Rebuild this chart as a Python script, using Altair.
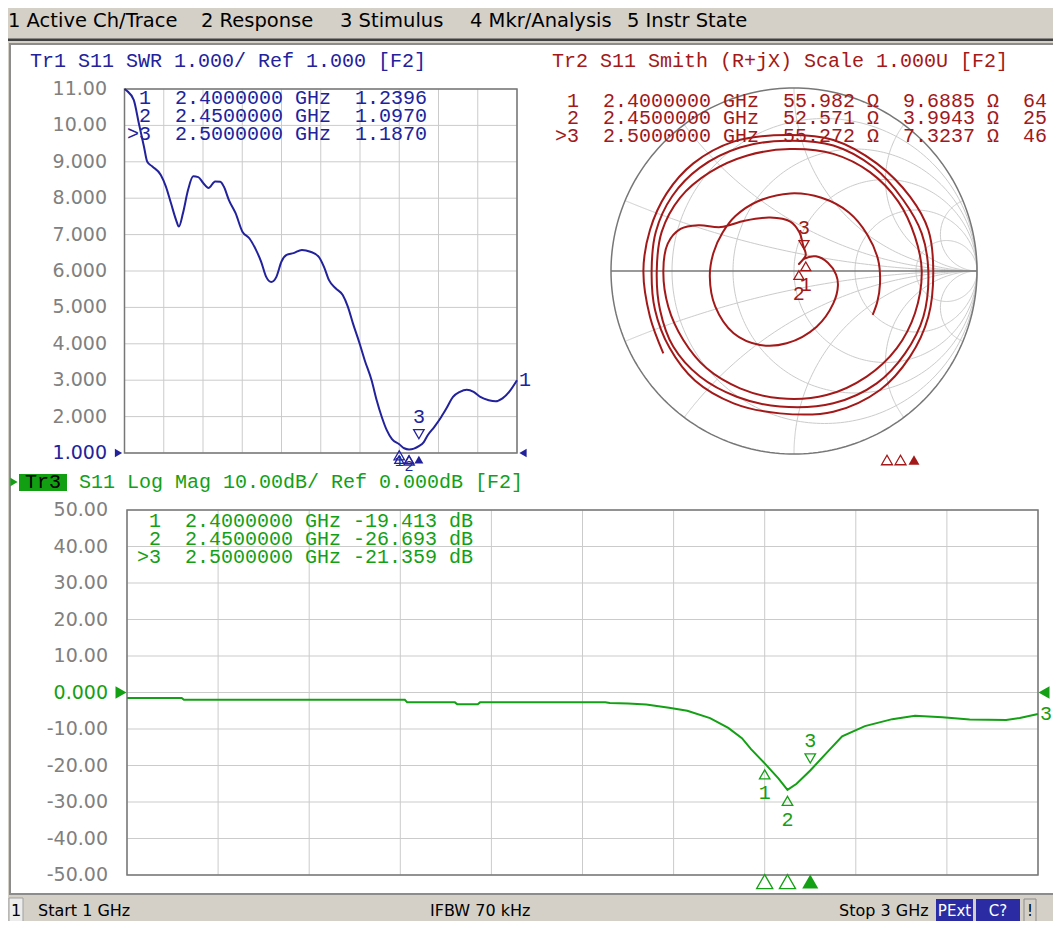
import altair as alt
import numpy as np
import pandas as pd

# ---------------- values ----------------
# Trace 1 : S11 SWR versus frequency (GHz)
swr_freq = [1.000, 1.012, 1.047, 1.073, 1.099, 1.116, 1.142, 1.185, 1.211, 1.237, 1.263, 1.277, 1.298,
            1.324, 1.350, 1.376, 1.402, 1.428, 1.462, 1.488, 1.506, 1.532, 1.566, 1.601, 1.636, 1.670,
            1.696, 1.722, 1.748, 1.774, 1.800, 1.826, 1.861, 1.904, 1.947, 1.990, 2.016, 2.042, 2.077,
            2.112, 2.138, 2.164, 2.198, 2.224, 2.259, 2.285, 2.311, 2.337, 2.363, 2.400, 2.425, 2.450,
            2.475, 2.500, 2.525, 2.545, 2.579, 2.614, 2.640, 2.674, 2.709, 2.744, 2.779, 2.813, 2.856,
            2.891, 2.926, 2.960, 3.000]
swr_val = [11.0, 10.95, 10.7, 10.06, 9.42, 9.0, 8.87, 8.64, 8.32, 7.86, 7.40, 7.22, 7.59,
           8.23, 8.60, 8.58, 8.41, 8.28, 8.46, 8.45, 8.32, 7.95, 7.59, 7.08, 6.90, 6.58,
           6.26, 5.84, 5.70, 5.84, 6.26, 6.44, 6.49, 6.58, 6.53, 6.39, 6.12, 5.75, 5.52,
           5.34, 5.02, 4.56, 4.01, 3.55, 3.00, 2.45, 1.99, 1.62, 1.38, 1.2396, 1.13, 1.097,
           1.12, 1.187, 1.30, 1.49, 1.72, 1.99, 2.22, 2.54, 2.68, 2.74, 2.68, 2.54, 2.45,
           2.42, 2.50, 2.68, 3.00]

# Trace 3 : S11 Log Mag (dB) versus frequency (GHz)
lm_freq = [1.00, 1.12, 1.125, 1.40, 1.61, 1.615, 1.72, 1.725, 1.77, 1.775, 2.05, 2.06, 2.10, 2.14,
           2.19, 2.23, 2.28, 2.32, 2.35, 2.37, 2.40, 2.43, 2.45, 2.47, 2.50, 2.54, 2.57, 2.62,
           2.68, 2.73, 2.79, 2.85, 2.93, 2.96, 3.00]
lm_db = [-1.5, -1.5, -2.0, -2.0, -2.0, -2.7, -2.7, -3.2, -3.2, -2.7, -2.7, -2.9, -3.0, -3.3,
         -4.2, -5.0, -7.0, -9.7, -12.5, -15.5, -19.413, -23.5, -26.693, -25.0, -21.359, -16.0, -12.0, -9.2,
         -7.3, -6.4, -6.8, -7.4, -7.5, -7.0, -5.9]

# Trace 2 : S11 on the Smith chart (reflection coefficient, real / imaginary), in sweep order
smith_points = [
    (-0.714, -0.450), (-0.787, -0.250), (-0.823, 0.000), (-0.787, 0.224), (-0.696, 0.424), (-0.550, 0.588),
    (-0.330, 0.707), (-0.040, 0.743), (0.215, 0.716), (0.452, 0.588), (0.634, 0.406), (0.734, 0.224),
    (0.761, 0.000), (0.734, -0.250), (0.634, -0.468), (0.470, -0.650), (0.215, -0.769), (-0.077, -0.778),
    (-0.330, -0.723), (-0.540, -0.600), (-0.680, -0.420), (-0.760, -0.210),
    (-0.778, 0.000), (-0.755, 0.215), (-0.665, 0.410), (-0.514, 0.565), (-0.295, 0.675), (-0.040, 0.712),
    (0.215, 0.686), (0.434, 0.568), (0.597, 0.388), (0.698, 0.206), (0.734, 0.000), (0.707, -0.250),
    (0.607, -0.450), (0.452, -0.614), (0.215, -0.723), (-0.077, -0.741), (-0.313, -0.687), (-0.514, -0.577),
    (-0.660, -0.413), (-0.732, -0.213),
    (-0.750, 0.000), (-0.723, 0.214), (-0.623, 0.400), (-0.459, 0.540), (-0.259, 0.630), (-0.022, 0.666),
    (0.215, 0.640), (0.415, 0.540), (0.570, 0.379), (0.661, 0.188), (0.698, 0.000), (0.661, -0.231),
    (0.561, -0.423), (0.397, -0.577), (0.178, -0.678), (-0.077, -0.696), (-0.295, -0.641), (-0.477, -0.532),
    (-0.605, -0.377), (-0.687, -0.195),
    (-0.714, 0.000), (-0.690, 0.150), (-0.620, 0.230), (-0.520, 0.250), (-0.400, 0.240), (-0.270, 0.275),
    (-0.130, 0.292), (-0.020, 0.270), (0.030, 0.210), (0.050, 0.140),
    (0.064, 0.086), (0.027, 0.038), (0.055, 0.066),
    (0.120, 0.080), (0.185, 0.045), (0.230, -0.020), (0.240, -0.080), (0.215, -0.177), (0.124, -0.304),
    (-0.040, -0.395), (-0.186, -0.404), (-0.330, -0.340), (-0.430, -0.195), (-0.460, -0.030), (-0.440, 0.100),
    (-0.390, 0.210), (-0.320, 0.300), (-0.200, 0.380), (-0.020, 0.424), (0.150, 0.400), (0.300, 0.320),
    (0.400, 0.200), (0.460, 0.060), (0.470, -0.070), (0.455, -0.170), (0.430, -0.240),
]

# Markers
mk_names = ["1", "2", "3"]
mk_freq = [2.40, 2.45, 2.50]
mk_swr = [1.2396, 1.0970, 1.1870]
mk_db = [-19.413, -26.693, -21.359]
mk_res = [55.982, 52.571, 55.272]
mk_reac = [9.6885, 3.9943, 7.3237]
mk_extra = ["64", "25", "46"]

# Grids and tick labels
freq_grid = [1.0, 1.2, 1.4, 1.6, 1.8, 2.0, 2.2, 2.4, 2.6, 2.8, 3.0]
swr_ticks = [11, 10, 9, 8, 7, 6, 5, 4, 3, 2, 1]
swr_tick_labels = ["11.00", "10.00", "9.000", "8.000", "7.000", "6.000", "5.000", "4.000", "3.000", "2.000", "1.000"]
db_ticks = [50, 40, 30, 20, 10, 0, -10, -20, -30, -40, -50]
db_tick_labels = ["50.00", "40.00", "30.00", "20.00", "10.00", "0.000", "-10.00", "-20.00", "-30.00", "-40.00", "-50.00"]
smith_r_grid = [0.2, 0.5, 1.0, 2.0, 5.0]
smith_x_grid = [0.2, 0.5, 1.0, 2.0, 5.0]

menu_items = ["1 Active Ch/Trace", "2 Response", "3 Stimulus", "4 Mkr/Analysis", "5 Instr State"]
menu_x = [8, 201, 340, 470, 627]

# ---------------- styles ----------------
BG = "#d4d0c8"
BLUE = "#22229c"
RED = "#a31818"
GREEN = "#14a014"
GRID = "#cbcbcb"
BORDER = "#777777"
LABEL = "#808080"
SANS = "DejaVu Sans"
MONO = "Liberation Mono"
MS = 20
CW = 12  # width of one monospace character cell
NB = "\u00a0"

ONE = pd.DataFrame({"k": [0]})


def P(v):
    return v - 8


def keep(s):
    return s.replace(" ", NB)


def rect(x1, y1, x2, y2, fill, stroke=None, sw=1.0):
    kw = dict(fill=fill)
    if stroke is not None:
        kw.update(stroke=stroke, strokeWidth=sw)
    return alt.Chart(ONE).mark_rect(**kw).encode(
        x=alt.value(P(x1)), x2=alt.value(P(x2)), y=alt.value(P(y1)), y2=alt.value(P(y2)))


def txt(x, y, s, color, size, font=SANS, align="left"):
    return alt.Chart(ONE).mark_text(align=align, baseline="middle", font=font, fontSize=size,
                                    color=color).encode(
        x=alt.value(P(x)), y=alt.value(P(y)), text=alt.value(keep(s)))


def sym(x, y, shape, color, size):
    return alt.Chart(ONE).mark_point(shape=shape, filled=True, size=size, color=color, opacity=1).encode(
        x=alt.value(P(x)), y=alt.value(P(y)))


def grid_df(xs, ys, xlo, xhi, ylo, yhi):
    return pd.DataFrame({
        "x": list(xs) + [xlo] * len(ys),
        "x2": list(xs) + [xhi] * len(ys),
        "y": [ylo] * len(xs) + list(ys),
        "y2": [yhi] * len(xs) + list(ys),
    })


def panel(xs, ys, grid, frame, trace_df, tick_df, ref_val, lab_x, color, mk_df, ind_y,
          tri_size, ind_size, end_label, end_xy, lab_dy, lab_size, interp):
    X = lambda f: alt.X(f"{f}:Q", scale=xs, axis=None)
    Y = lambda f: alt.Y(f"{f}:Q", scale=ys, axis=None)
    layers = []
    layers.append(alt.Chart(grid).mark_rule(color=GRID, strokeWidth=1).encode(
        x=X("x"), x2="x2:Q", y=Y("y"), y2="y2:Q"))
    layers.append(alt.Chart(frame).mark_rect(fill="transparent", stroke=BORDER, strokeWidth=1.5).encode(
        x=X("x"), x2="x2:Q", y=Y("y"), y2="y2:Q"))
    gray = tick_df[tick_df["v"] != ref_val]
    refl = tick_df[tick_df["v"] == ref_val]
    layers.append(alt.Chart(gray).mark_text(align="right", baseline="middle", font=SANS, fontSize=19,
                                            color=LABEL).encode(
        y=Y("v"), x=alt.value(P(lab_x)), text="t:N"))
    layers.append(alt.Chart(refl).mark_text(align="right", baseline="middle", font=SANS, fontSize=19,
                                            color=color).encode(
        y=Y("v"), x=alt.value(P(lab_x)), text="t:N"))
    refdf = pd.DataFrame({"x": [xs.domain[0]], "x2": [xs.domain[1]], "y": [ref_val]})
    layers.append(alt.Chart(refdf).mark_point(shape="triangle-right", filled=True, size=tri_size, color=color,
                                              opacity=1, xOffset=-6).encode(x=X("x"), y=Y("y")))
    layers.append(alt.Chart(refdf).mark_point(shape="triangle-left", filled=True, size=tri_size, color=color,
                                              opacity=1, xOffset=6).encode(x=X("x2"), y=Y("y")))
    layers.append(alt.Chart(trace_df).mark_line(color=color, strokeWidth=2, interpolate=interp).encode(
        x=X("f"), y=Y("v")))
    below = mk_df.iloc[:2]
    above = mk_df.iloc[2:]
    layers.append(alt.Chart(below).mark_point(shape="triangle-up", size=110, filled=False, color=color,
                                              strokeWidth=1.3, opacity=1, yOffset=11).encode(x=X("f"), y=Y("v")))
    layers.append(alt.Chart(below).mark_text(font=MONO, fontSize=lab_size, color=color, dy=lab_dy,
                                             baseline="middle").encode(x=X("f"), y=Y("v"), text="n:N"))
    layers.append(alt.Chart(above).mark_point(shape="triangle-down", size=110, filled=False, color=color,
                                              strokeWidth=1.3, opacity=1, yOffset=-12).encode(x=X("f"), y=Y("v")))
    layers.append(alt.Chart(above).mark_text(font=MONO, fontSize=MS, color=color, dy=-29, baseline="middle").encode(
        x=X("f"), y=Y("v"), text="n:N"))
    # marker position indicators under the axis
    layers.append(alt.Chart(below).mark_point(shape="triangle-up", size=ind_size, filled=False, color=color,
                                              strokeWidth=1.3, opacity=1).encode(
        x=X("f"), y=alt.YDatum(ind_y, scale=ys, axis=None)))
    layers.append(alt.Chart(above).mark_point(shape="triangle-up", size=ind_size, filled=True, color=color,
                                              opacity=1).encode(
        x=X("f"), y=alt.YDatum(ind_y, scale=ys, axis=None)))
    enddf = pd.DataFrame({"f": [end_xy[0]], "v": [end_xy[1]], "n": [end_label]})
    layers.append(alt.Chart(enddf).mark_text(font=MONO, fontSize=MS, color=color, align="left", dx=2,
                                             baseline="middle").encode(x=X("f"), y=Y("v"), text="n:N"))
    return alt.layer(*layers)


# ---------------- panel 1 : SWR ----------------
X1 = alt.Scale(domain=[1, 3], range=[P(124.5), P(517)], nice=False, zero=False)
Y1 = alt.Scale(domain=[1, 11], range=[P(453), P(89)], nice=False, zero=False)
mk1 = pd.DataFrame({"f": mk_freq, "v": mk_swr, "n": mk_names})
p1 = panel(X1, Y1, grid_df(freq_grid, swr_ticks, 1.0, 3.0, 1.0, 11.0),
           pd.DataFrame({"x": [1.0], "x2": [3.0], "y": [1.0], "y2": [11.0]}),
           pd.DataFrame({"f": swr_freq, "v": swr_val}),
           pd.DataFrame({"v": swr_ticks, "t": swr_tick_labels}), 1, 107, BLUE, mk1, 0.82, 70, 80,
           "1", (swr_freq[-1], swr_val[-1]), 17, 15, "monotone")

# ---------------- panel 3 : Log Mag ----------------
X3 = alt.Scale(domain=[1, 3], range=[P(127), P(1038)], nice=False, zero=False)
Y3 = alt.Scale(domain=[-50, 50], range=[P(875), P(510)], nice=False, zero=False)
mk3 = pd.DataFrame({"f": mk_freq, "v": mk_db, "n": mk_names})
p3 = panel(X3, Y3, grid_df(freq_grid, db_ticks, 1.0, 3.0, -50.0, 50.0),
           pd.DataFrame({"x": [1.0], "x2": [3.0], "y": [-50.0], "y2": [50.0]}),
           pd.DataFrame({"f": lm_freq, "v": lm_db}),
           pd.DataFrame({"v": db_ticks, "t": db_tick_labels}), 0, 108, GREEN, mk3, -51.8, 160, 260,
           "3", (lm_freq[-1], lm_db[-1]), 30, MS, "linear")

# ---------------- panel 2 : Smith chart ----------------
XS = alt.Scale(domain=[-1, 1], range=[P(611), P(977)], nice=False, zero=False)
YS = alt.Scale(domain=[-1, 1], range=[P(454), P(88)], nice=False, zero=False)
GX = alt.X("gr:Q", scale=XS, axis=None)
GY = alt.Y("gi:Q", scale=YS, axis=None)

rows = []
t = np.linspace(0, 2 * np.pi, 241)
for r in smith_r_grid:
    c, rad = r / (1 + r), 1 / (1 + r)
    for i, tt in enumerate(t):
        rows.append({"g": f"r{r}", "i": i, "gr": c + rad * np.cos(tt), "gi": rad * np.sin(tt)})
rr = np.concatenate([[0.0], np.geomspace(0.003, 3000, 260)])
for xv in smith_x_grid:
    for s in (1, -1):
        g = ((rr + 1j * s * xv) - 1) / ((rr + 1j * s * xv) + 1)
        for i, gv in enumerate(g):
            rows.append({"g": f"x{s * xv}", "i": i, "gr": gv.real, "gi": gv.imag})
smith_grid = pd.DataFrame(rows)
outer = pd.DataFrame({"g": "o", "i": range(len(t)), "gr": np.cos(t), "gi": np.sin(t)})
smith_tr = pd.DataFrame({"i": range(len(smith_points)),
                         "gr": [p[0] for p in smith_points], "gi": [p[1] for p in smith_points]})
zn = (np.array(mk_res) + 1j * np.array(mk_reac)) / 50.0
gm = (zn - 1) / (zn + 1)
mk2 = pd.DataFrame({"gr": gm.real, "gi": gm.imag, "n": mk_names})

p2 = alt.layer(
    alt.Chart(smith_grid).mark_line(color=GRID, strokeWidth=1).encode(x=GX, y=GY, detail="g:N", order="i:Q"),
    alt.Chart(pd.DataFrame({"gr": [-1.0], "gr2": [1.0], "gi": [0.0]})).mark_rule(color=BORDER, strokeWidth=1.5).encode(
        x=GX, x2="gr2:Q", y=GY),
    alt.Chart(outer).mark_line(color=BORDER, strokeWidth=1.5).encode(x=GX, y=GY, order="i:Q"),
    alt.Chart(smith_tr).mark_line(color=RED, strokeWidth=2, interpolate="catmull-rom").encode(
        x=GX, y=GY, order="i:Q"),
    alt.Chart(mk2.iloc[:2]).mark_point(shape="triangle-up", size=100, filled=False, color=RED, strokeWidth=1.3,
                                       opacity=1, yOffset=11).encode(x=GX, y=GY),
    alt.Chart(mk2.iloc[:2]).mark_text(font=MONO, fontSize=MS, color=RED, dy=30, baseline="middle").encode(
        x=GX, y=GY, text="n:N"),
    alt.Chart(mk2.iloc[2:]).mark_point(shape="triangle-down", size=100, filled=False, color=RED, strokeWidth=1.3,
                                       opacity=1, yOffset=-14).encode(x=GX, y=GY),
    alt.Chart(mk2.iloc[2:]).mark_text(font=MONO, fontSize=MS, color=RED, dy=-31, baseline="middle").encode(
        x=GX, y=GY, text="n:N"),
)

XF2 = alt.Scale(domain=[1, 3], range=[P(509), P(1049)], nice=False, zero=False)
mkf = pd.DataFrame({"f": mk_freq})
ind2 = alt.layer(
    alt.Chart(mkf.iloc[:2]).mark_point(shape="triangle-up", size=120, filled=False, color=RED, strokeWidth=1.3,
                                       opacity=1).encode(x=alt.X("f:Q", scale=XF2, axis=None), y=alt.value(P(460))),
    alt.Chart(mkf.iloc[2:]).mark_point(shape="triangle-up", size=120, filled=True, color=RED,
                                       opacity=1).encode(x=alt.X("f:Q", scale=XF2, axis=None), y=alt.value(P(460))),
)

# ---------------- window chrome and text ----------------
chrome = [
    rect(8, 38.5, 1061, 41, "#404040"),
    rect(10, 44, 1054, 894, "#ffffff", "#8c8c8c", 2),
    rect(9, 898, 23, 923, "#ececec", "#a0a0a0", 1),
    rect(936, 899, 973, 922, "#2b2ba3"),
    rect(976, 899, 1020, 922, "#2b2ba3"),
    rect(1024, 899, 1036, 922, BG, "#8c8c8c", 1),
    rect(19, 474, 67, 491, "#12a012"),
]

texts = []
for s, x in zip(menu_items, menu_x):
    texts.append(txt(x, 21, s, "#000000", 19.5))
texts += [
    txt(30, 61, "Tr1 S11 SWR 1.000/ Ref 1.000 [F2]", BLUE, MS, MONO),
    txt(552, 61, "Tr2 S11 Smith (R+jX) Scale 1.000U [F2]", RED, MS, MONO),
    txt(79, 482, "S11 Log Mag 10.00dB/ Ref 0.000dB [F2]", GREEN, MS, MONO),
    txt(43, 482, "Tr3", "#000000", MS, MONO, "center"),
    sym(14, 482, "triangle-right", GREEN, 70),
]
ys1 = [98, 116, 134]
ys2 = [101, 118, 136]
ys3 = [521, 539, 557]
for k in range(3):
    active = k == 2
    pre = ">" if active else ""
    shift = 0 if active else CW  # inactive rows keep an empty first character cell
    texts.append(txt(127 + shift, ys1[k], f"{pre}{mk_names[k]}  {mk_freq[k]:.7f} GHz  {mk_swr[k]:.4f}",
                     BLUE, MS, MONO))
    texts.append(txt(555 + shift, ys2[k], f"{pre}{mk_names[k]}  {mk_freq[k]:.7f} GHz  {mk_res[k]:.3f} \u03a9  "
                                            f"{mk_reac[k]:.4f} \u03a9  {mk_extra[k]}", RED, MS, MONO))
    texts.append(txt(137 + shift, ys3[k], f"{pre}{mk_names[k]}  {mk_freq[k]:.7f} GHz {mk_db[k]:.3f} dB",
                     GREEN, MS, MONO))

texts += [
    txt(16, 911, "1", "#000000", 16, SANS, "center"),
    txt(38, 911, "Start 1 GHz", "#000000", 16),
    txt(430, 911, "IFBW 70 kHz", "#000000", 16),
    txt(839, 911, "Stop 3 GHz", "#000000", 16),
    txt(954.5, 911, "PExt", "#ffffff", 15, SANS, "center"),
    txt(998, 911, "C?", "#ffffff", 15, SANS, "center"),
    txt(1030, 911, "!", "#000000", 15, SANS, "center"),
]

chart = alt.layer(*chrome, p1, p2, ind2, p3, *texts).resolve_scale(
    x="independent", y="independent"
).properties(
    width=1045, height=913, padding=0, background=BG,
    autosize=alt.AutoSizeParams(type="none"),
).configure_view(strokeWidth=0)

chart.save("out.html", embed_options={"renderer": "svg", "actions": False})
